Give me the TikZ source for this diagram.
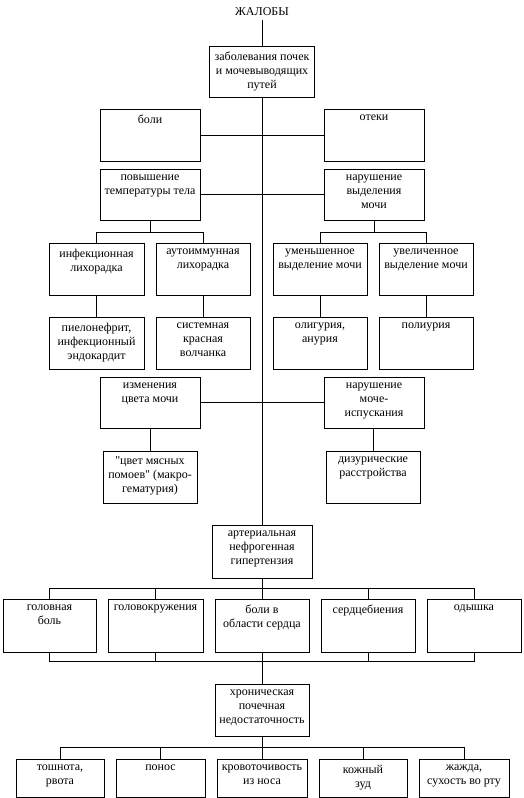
\documentclass[tikz,border=0pt]{standalone}
\usepackage{fontspec}
\setmainfont{Liberation Serif}[Ligatures=TeXOff]
\begin{document}
\begin{tikzpicture}[x=1pt, y=-1pt, line width=0.9pt,
  font=\fontsize{12}{14}\selectfont,
  box/.style={draw, inner sep=0pt, minimum width=94, minimum height=52},
  wide/.style={box, minimum width=100, minimum height=51},
  low/.style={box, minimum height=38},
  txt/.style={anchor=north, inner sep=0pt, yshift=-6pt, align=center, font=\fontsize{12}{14}\selectfont}]
  \useasboundingbox (0,0) rectangle (524,798);
  % top
  \node (zhal) at (262,12) {ЖАЛОБЫ};
  \node[wide, minimum width=105, label={[txt]north:заболевания почек\\и мочевыводящих\\путей}] (zab) at (262,71.5) {};
  % pairs on the stem
  \node[wide, minimum height=52, label={[txt]north:боли}] (boli) at (150,135) {};
  \node[wide, minimum height=52, label={[txt]north:отеки}] (oteki) at (374,135) {};
  \node[wide, label={[txt]north:повышение\\температуры тела}] (pov) at (150,194.5) {};
  \node[wide, label={[txt]north:нарушение\\выделения\\мочи}] (narvyd) at (374,194.5) {};
  % fever / urine output
  \node[box, minimum width=95, label={[txt]north:инфекционная\\лихорадка}] (inf) at (96.5,269) {};
  \node[box, label={[txt]north:аутоиммунная\\лихорадка}] (auto) at (203,269) {};
  \node[box, label={[txt]north:уменьшенное\\выделение мочи}] (umen) at (320,269) {};
  \node[box, label={[txt]north:увеличенное\\выделение мочи}] (uvel) at (426,269) {};
  \node[box, minimum width=95, label={[txt]north:пиелонефрит,\\инфекционный\\эндокардит}] (pielo) at (96.5,343) {};
  \node[box, label={[txt]north:системная\\красная\\волчанка}] (sist) at (203,343) {};
  \node[box, label={[txt]north:олигурия,\\анурия}] (olig) at (320,343) {};
  \node[box, label={[txt]north:полиурия}] (poli) at (426,343) {};
  % colour / urination
  \node[wide, label={[txt]north:изменения\\цвета мочи}] (izm) at (150,402.5) {};
  \node[wide, label={[txt]north:нарушение\\моче-\\испускания}] (narmoch) at (374,402.5) {};
  \node[box, label={[txt]north:"цвет мясных\\помоев" (макро-\\гематурия)}] (cvet) at (150,477) {};
  \node[box, label={[txt]north:дизурические\\расстройства}] (dizur) at (373,477) {};
  % hypertension
  \node[wide, minimum height=53, label={[txt]north:артериальная\\нефрогенная\\гипертензия}] (art) at (262,551.5) {};
  \node[box, minimum width=93, minimum height=53, label={[txt]north:головная\\боль}] (golov) at (49.5,625.5) {};
  \node[box, minimum width=95, minimum height=53, label={[txt]north:головокружения}] (golovokr) at (155.5,625.5) {};
  \node[box, minimum height=53, label={[txt]north:боли в\\области сердца}] (bolserd) at (262,625.5) {};
  \node[box, minimum height=53, label={[txt]north:сердцебиения}] (serdc) at (368,625.5) {};
  \node[box, minimum height=53, label={[txt]north:одышка}] (odysh) at (474,625.5) {};
  % renal failure
  \node[box, label={[txt]north:хроническая\\почечная\\недостаточность}] (hron) at (262,710) {};
  \node[low, minimum width=88, label={[txt]north:тошнота,\\рвота}] (toshn) at (60,778) {};
  \node[low, minimum width=89, label={[txt]north:понос}] (ponos) at (160.5,778) {};
  \node[low, minimum width=90, label={[txt]north:кровоточивость\\из носа}] (krov) at (262,778) {};
  \node[low, minimum width=88, label={[txt]north:кожный\\зуд}] (kozh) at (363,778) {};
  \node[low, minimum width=90, label={[txt]north:жажда,\\сухость во рту}] (zhazh) at (464,778) {};
  % stem
  \draw (zhal) -- (zab);
  \draw (zab) -- (art);
  \draw (boli) -- (oteki);
  \draw (pov) -- (narvyd);
  \draw (izm) -- (narmoch);
  % branches
  \draw (pov.south) -- ++(0,12) coordinate (pov-b);
  \draw (inf.north) |- (pov-b) -| (auto.north);
  \draw (narvyd.south) -- ++(0,12) coordinate (narvyd-b);
  \draw (umen.north) |- (narvyd-b) -| (uvel.north);
  \foreach \a/\b in {inf/pielo, auto/sist, umen/olig, uvel/poli, izm/cvet, narmoch/dizur}
    \draw (\a.south -| \b.north) -- (\b.north);
  \draw (art.south) -- ++(0,10) coordinate (art-b);
  \draw (golov.north) |- (art-b) -| (odysh.north);
  \foreach \n in {golovokr, bolserd, serdc}
    \draw (\n.north) -- (\n.north |- art-b);
  \draw (hron.north) -- ++(0,-22) coordinate (hron-t);
  \draw (golov.south) |- (hron-t) -| (odysh.south);
  \foreach \n in {golovokr, bolserd, serdc}
    \draw (\n.south) -- (\n.south |- hron-t);
  \draw (hron.south) -- ++(0,11) coordinate (hron-b);
  \draw (toshn.north) |- (hron-b) -| (zhazh.north);
  \foreach \n in {ponos, krov, kozh}
    \draw (\n.north) -- (\n.north |- hron-b);
\end{tikzpicture}
\end{document}
